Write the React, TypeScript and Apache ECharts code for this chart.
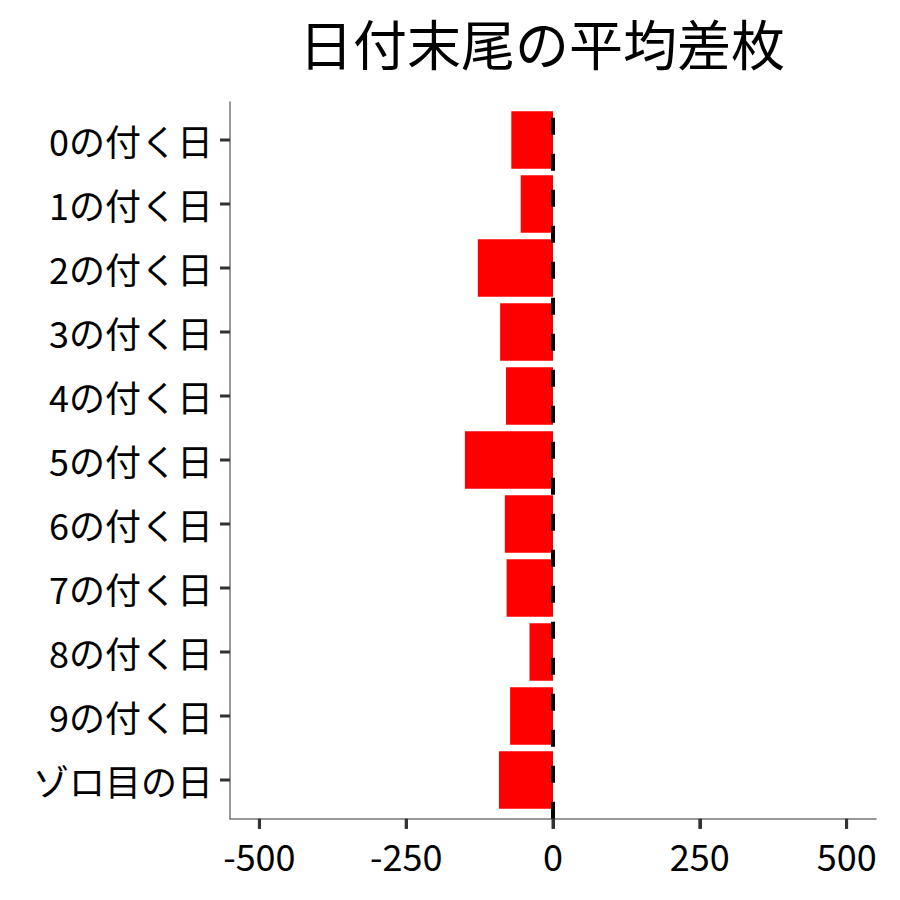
import React, { useEffect, useRef } from 'react';
import * as echarts from 'echarts';

const categories = [
  '0の付く日', '1の付く日', '2の付く日', '3の付く日', '4の付く日', '5の付く日',
  '6の付く日', '7の付く日', '8の付く日', '9の付く日', 'ゾロ目の日'
];
const avgDiff = [-71, -55, -128, -90, -80, -150, -82, -79, -40, -73, -92];
const xTicks = [-500, -250, 0, 250, 500];

const FONT = '"Noto Sans CJK JP", "Noto Sans", sans-serif';
const X_MIN = -550;
const X_MAX = 550;
const TICK_LEN = 10;

const App: React.FC = () => {
  const chartRef = useRef<HTMLDivElement>(null);

  useEffect(() => {
    document.body.style.margin = '0';
    if (!chartRef.current) return;
    const chart = echarts.init(chartRef.current, null, { renderer: 'svg' });

    const option: echarts.EChartsOption = {
      animation: false,
      title: {
        text: '日付末尾の平均差枚',
        left: 537,
        textAlign: 'center',
        top: 10,
        textStyle: { fontFamily: FONT, fontSize: 54, fontWeight: 'normal', color: '#000' }
      },
      grid: [
        // bars: one 64px band per category
        { left: 230, right: 24, top: 108, height: 704 },
        // frame: axis lines and ticks span the expanded panel
        { left: 230, right: 24, top: 102, height: 716.8 }
      ],
      xAxis: [
        {
          // carries the x labels only
          type: 'value',
          gridIndex: 0,
          min: X_MIN,
          max: X_MAX,
          splitLine: { show: false },
          axisLine: { show: false, onZero: false },
          axisTick: { show: false },
          axisLabel: {
            customValues: xTicks,
            margin: 25,
            fontFamily: FONT,
            fontSize: 36,
            color: '#000'
          }
        },
        {
          type: 'value',
          gridIndex: 1,
          min: X_MIN,
          max: X_MAX,
          splitLine: { show: false },
          axisLine: { show: true, onZero: false, lineStyle: { color: '#777', width: 1.5 } },
          axisTick: {
            show: true,
            inside: false,
            length: TICK_LEN,
            customValues: xTicks,
            lineStyle: { color: '#333', width: 3 }
          },
          axisLabel: { show: false }
        }
      ],
      yAxis: [
        {
          type: 'category',
          gridIndex: 0,
          data: categories,
          inverse: true,
          axisLine: { show: false },
          axisTick: { show: false },
          axisLabel: { margin: 17, fontFamily: FONT, fontSize: 36, color: '#000' }
        },
        {
          type: 'value',
          gridIndex: 1,
          min: 0,
          max: 1,
          axisLine: { show: true, onZero: false, lineStyle: { color: '#777', width: 1.5 } },
          axisTick: { show: false },
          axisLabel: { show: false },
          splitLine: { show: false }
        }
      ],
      series: [
        {
          type: 'bar',
          xAxisIndex: 0,
          yAxisIndex: 0,
          data: avgDiff,
          barCategoryGap: '10%',
          itemStyle: { color: '#ff0000' },
          z: 2
        },
        {
          // y ticks, placed on the category scale
          type: 'custom',
          xAxisIndex: 0,
          yAxisIndex: 0,
          silent: true,
          data: categories.map((_, i) => [X_MIN, i]),
          renderItem: (params: any, api: any) => {
            const p = api.coord([api.value(0), api.value(1)]);
            return {
              type: 'line',
              shape: { x1: p[0] - TICK_LEN, y1: p[1], x2: p[0], y2: p[1] },
              style: { stroke: '#333', lineWidth: 3 }
            };
          },
          z: 3
        },
        {
          // x ticks, placed on the frame's value scale
          type: 'custom',
          xAxisIndex: 1,
          yAxisIndex: 1,
          silent: true,
          clip: false,
          data: xTicks.map((v) => [v, 0]),
          renderItem: (params: any, api: any) => {
            const p = api.coord([api.value(0), api.value(1)]);
            return {
              type: 'line',
              shape: { x1: p[0], y1: p[1], x2: p[0], y2: p[1] + TICK_LEN },
              style: { stroke: '#333', lineWidth: 3 }
            };
          },
          z: 6
        },
        {
          // dashed zero line over the full panel height
          type: 'scatter',
          xAxisIndex: 1,
          yAxisIndex: 1,
          data: [[0, 0.5]],
          symbolSize: 0,
          silent: true,
          z: 5,
          markLine: {
            silent: true,
            symbol: 'none',
            label: { show: false },
            lineStyle: { color: '#000', width: 4, type: [17, 19] },
            data: [{ xAxis: 0 }]
          }
        }
      ]
    };

    chart.setOption(option);
    return () => chart.dispose();
  }, []);

  return <div ref={chartRef} style={{ width: 900, height: 900 }} />;
};

export default App;
